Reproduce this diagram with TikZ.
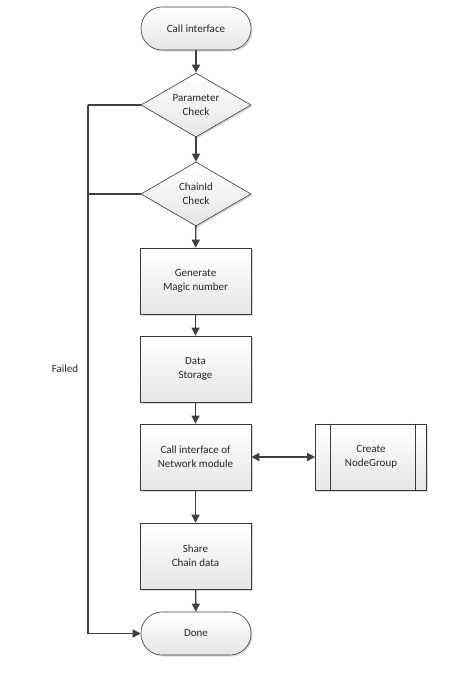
\documentclass[tikz,border=0pt]{standalone}
\usepackage{fontspec}
\setmainfont{Carlito}
\usetikzlibrary{shapes.geometric,arrows.meta,shadows,calc}
\definecolor{lc}{HTML}{404040}
\definecolor{bc}{HTML}{3A3A3A}
\definecolor{sh}{HTML}{E6E6E6}
\tikzset{
  x=1pt,y=-1pt,
  every node/.style={font=\fontsize{11}{14}\selectfont, text=black!85, align=center},
  base/.style={draw=bc, line width=0.6pt, top color=white, bottom color=sh,
    drop shadow={shadow xshift=1.5pt, shadow yshift=-1.5pt, fill=black!25, opacity=0.6}},
  procbox/.style={base, rectangle, minimum width=111pt, minimum height=66pt, inner sep=0pt},
  termbox/.style={base, rectangle, rounded corners=21pt, minimum width=110pt, minimum height=43pt, inner sep=0pt},
  decbox/.style={base, diamond, aspect=1.72, minimum width=110pt, minimum height=64pt, inner sep=0pt},
  conn/.style={draw=lc, line width=1.4pt, -{Triangle[length=8pt,width=8pt]}},
  lineonly/.style={draw=lc, line width=1.4pt},
}
\begin{document}
\begin{tikzpicture}
\useasboundingbox (0,0) rectangle (451,674);
\node[termbox] (start) at (196,28.5) {Call interface};
\node[decbox] (pc) at (196,105) {Parameter\\Check};
\node[decbox] (cc) at (196,194) {ChainId\\Check};
\node[procbox] (gen) at (195.5,281) {Generate\\Magic number};
\node[procbox] (ds) at (195.5,369) {Data\\Storage};
\node[procbox] (net) at (195.5,457) {Call interface of\\Network module};
\node[procbox] (cng) at (371,457) {Create\\NodeGroup};
\draw[draw=bc, line width=0.6pt] ($(cng.north west)+(15,0)$) -- ($(cng.south west)+(15,0)$);
\draw[draw=bc, line width=0.6pt] ($(cng.north east)+(-12,0)$) -- ($(cng.south east)+(-12,0)$);
\node[procbox] (share) at (195.5,556) {Share\\Chain data};
\node[termbox] (done) at (196,633.5) {Done};
\coordinate (lt) at (88,105);
\coordinate (lm) at (88,194);
\coordinate (lb) at (88,633.5);
\node (failed) at (65,369) {Failed};
\draw[conn] (start) -- (pc);
\draw[conn] (pc) -- (cc);
\draw[conn] (cc) -- (gen);
\draw[conn] (gen) -- (ds);
\draw[conn] (ds) -- (net);
\draw[conn] (net) -- (share);
\draw[conn] (share) -- (done);
\draw[draw=lc, line width=1.4pt, {Triangle[length=8pt,width=8pt]}-{Triangle[length=8pt,width=8pt]}] (net) -- (cng);
\draw[lineonly] (pc.west) -- (lt);
\draw[lineonly] (cc.west) -- (lm);
\draw[conn] (lt) -- (lb) -- (done.west);
\end{tikzpicture}
\end{document}
